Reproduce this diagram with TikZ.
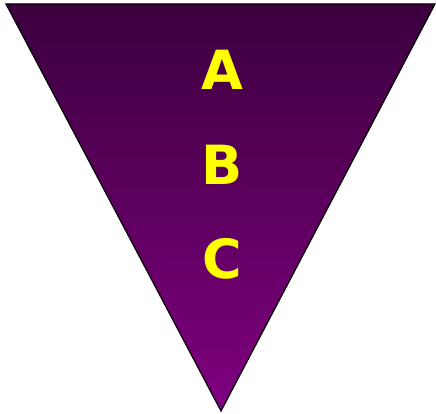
\documentclass[tikz,border=0pt]{standalone}
\usepackage{fontspec}
\setmainfont{DejaVu Sans}
\usepackage{tikz}
\definecolor{plumtop}{RGB}{60,0,62}
\definecolor{plumbottom}{RGB}{128,0,128}
\definecolor{lettery}{RGB}{255,255,0}
\tikzset{
  letter/.style={text=lettery, font=\fontsize{54}{60}\selectfont\bfseries, inner sep=0pt}
}
\begin{document}
\begin{tikzpicture}[x=1pt,y=1pt]
    \useasboundingbox (0,0) rectangle (436,414);

    % Вершини трикутника
    \coordinate (TL) at (6,410);
    \coordinate (TR) at (435,410);
    \coordinate (P) at (221,3);

    % Трикутник з градієнтом
    \shade[top color=plumtop, bottom color=plumbottom] (TL) -- (TR) -- (P) -- cycle;
    \draw[line width=1.2pt, line join=miter] (TL) -- (TR) -- (P) -- cycle;

    % Підписи
    \node[letter] (A) at (222,344) {A};
    \node[letter] (B) at (222,249) {B};
    \node[letter] (C) at (222,155) {C};
\end{tikzpicture}
\end{document}
